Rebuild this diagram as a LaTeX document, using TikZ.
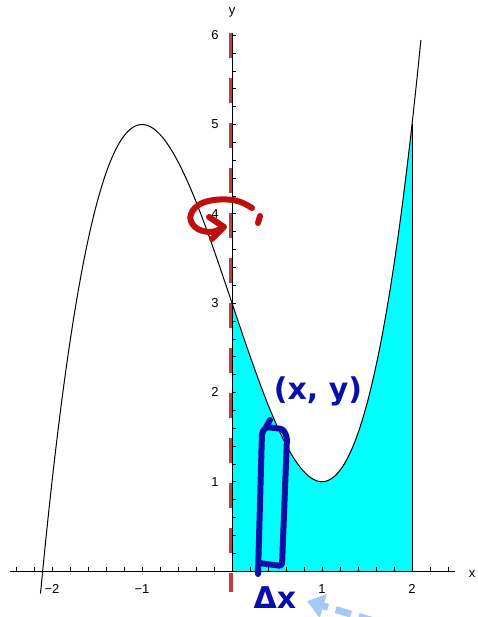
\documentclass[tikz,border=0pt]{standalone}
\usepackage{fontspec}
\setmainfont{Liberation Sans}
\newfontfamily\handfont{DejaVu Sans}
\usetikzlibrary{arrows.meta, positioning}
\definecolor{penblue}{RGB}{10,15,170}
\definecolor{penred}{RGB}{190,15,15}
\definecolor{axisred}{RGB}{200,60,60}
\definecolor{hintblue}{RGB}{165,200,245}
\definecolor{areacyan}{RGB}{0,255,255}
\tikzset{
  axis/.style={line width=0.9pt, black},
  curve/.style={line width=1pt, black},
  tickmark/.style={line width=0.6pt},
  ticklabel/.style={font=\fontsize{13}{15}\selectfont, inner sep=0pt},
  ink/.style={line width=6pt, line cap=round, line join=round},
  blueink/.style={ink, draw=penblue, rounded corners=3pt},
  redink/.style={ink, draw=penred},
  handtext/.style={text=penblue, font=\handfont\bfseries\fontsize{30}{32}\selectfont, inner sep=0pt},
  hint/.style={-{Triangle[length=17pt, width=24pt]}, line width=7pt, draw=hintblue,
               dash pattern=on 16pt off 8pt},
  revaxis/.style={line width=4pt, draw=axisred, dash pattern=on 25pt off 20pt}
}

\begin{document}
\begin{tikzpicture}[x=1pt, y=-1pt]
  \useasboundingbox (0,0) rectangle (478,617);

  % Plot in graph units
  \begin{scope}[shift={(232,571)}, x=90pt, y=89.3pt]
    % region under the curve
    \fill[areacyan] plot[domain=0:2, samples=60, variable=\t] (\t,{\t*\t*\t-3*\t+3})
      -- (2,0) -- (0,0) -- cycle;
    \draw[curve] (2,0) -- (2,5);

    % axis of revolution
    \draw[revaxis] ([xshift=-1pt]0,6.02) -- ([xshift=-1pt]0,-0.24);

    % Axes and ticks
    \draw[axis] (-2.467,0) -- (2.478,0);
    \draw[axis] (0,0) -- (0,6.02);
    \foreach \i in {-12,...,-1,1,2,...,12}
      \draw[tickmark] (\i/5,0) -- ++(0,4pt);
    \foreach \j in {1,...,30}
      \draw[tickmark] (0,\j/5) -- ++(4pt,0);
    \foreach \v/\s [count=\k] in {-2/−2, -1/−1, 1/1, 2/2}
      \node[ticklabel] (xl\k) at (\v,-0.2) {\s};
    \foreach \v [count=\k] in {1,...,6}
      \node[ticklabel] (yl\k) at (-0.19,\v) {\v};
    \node[ticklabel] (xname) at (2.667,-0.03) {x};
    \node[ticklabel] (yname) at (0,6.26) {y};

    % Curve
    \draw[curve] plot[domain=-2.128:2.1, samples=150, variable=\t] (\t,{\t*\t*\t-3*\t+3});
  \end{scope}

  % Rotation mark
  \draw[redink] plot[smooth, tension=0.7] coordinates
    {(252,208) (233,200) (205,202) (191,214) (195,227) (210,232) (222,228)};
  \draw[redink] (209,217) -- (224,227) -- (212,239);
  \draw[redink] (260,216) -- (258,223);

  % Strip and notes
  \draw[blueink] (258,574) -- (262,432) -- (266,427) -- (283,429) -- (287,437)
    -- (282,566) -- (259,563);
  \draw[blueink] (270,420) -- (266,427);
  \node[handtext] (pt) at (318,391) {(x, y)};
  \node[handtext] (dx) at (275,598) {Δx};
  \coordinate (hintfrom) at (374,621);
  \draw[hint, shorten >=11pt] (hintfrom) -- (dx.east);
\end{tikzpicture}
\end{document}
